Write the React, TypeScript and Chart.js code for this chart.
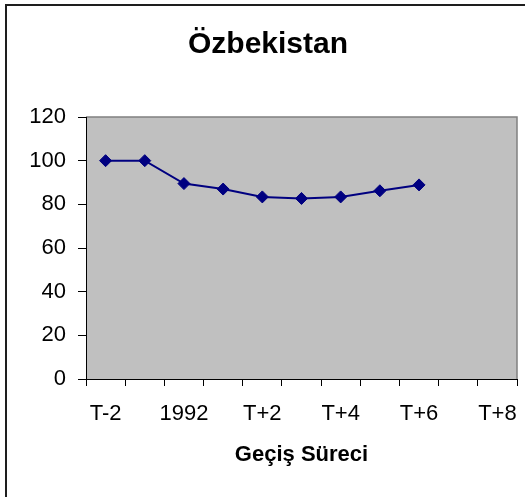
import React, { useEffect, useRef } from "react";
import { Chart, registerables } from "chart.js";

Chart.register(...registerables);

const categories = ["T-2", "T-1", "1992", "T+1", "T+2", "T+3", "T+4", "T+5", "T+6", "T+7", "T+8"];
const values = [100, 100, 89.5, 87, 83.4, 82.7, 83.4, 86.2, 88.9];
const yTicks = { min: 0, max: 120, step: 20 };
const titleText = "Özbekistan";
const xTitle = "Geçiş Süreci";

const FONT = "'Liberation Sans', Arial, sans-serif";

const backgroundPlugin = {
  id: "bgAndPlot",
  beforeDraw(chart: any) {
    const { ctx, chartArea } = chart;
    ctx.save();
    ctx.fillStyle = "#ffffff";
    ctx.fillRect(0, 0, chart.width, chart.height);
    // outer chart border (top & left visible)
    ctx.fillStyle = "#1e1e1e";
    ctx.fillRect(5, 4, 2, chart.height);
    ctx.fillRect(5, 4, chart.width, 2);
    // plot area
    const { left, top, right, bottom } = chartArea;
    ctx.fillStyle = "#c0c0c0";
    ctx.fillRect(left, top, right - left, bottom - top);
    ctx.strokeStyle = "#808080";
    ctx.lineWidth = 1.5;
    ctx.beginPath();
    ctx.moveTo(left, top);
    ctx.lineTo(right, top);
    ctx.lineTo(right, bottom);
    ctx.stroke();
    ctx.restore();
  },
};

export default function App() {
  const ref = useRef<HTMLCanvasElement | null>(null);

  useEffect(() => {
    if (!ref.current) return;
    const chart = new Chart(ref.current, {
      type: "line",
      data: {
        labels: categories,
        datasets: [
          {
            data: values,
            borderColor: "#000080",
            backgroundColor: "#000080",
            borderWidth: 2,
            pointStyle: "rectRot",
            pointRadius: 6,
            pointBorderWidth: 1,
            pointBackgroundColor: "#000080",
            pointBorderColor: "#000080",
            tension: 0,
            fill: false,
          },
        ],
      },
      options: {
        responsive: false,
        animation: false,
        events: [],
        layout: { padding: { left: 19, right: 8, top: 4, bottom: 0 } },
        plugins: {
          legend: { display: false },
          tooltip: { enabled: false },
          title: {
            display: true,
            text: titleText,
            color: "#000",
            font: { family: FONT, size: 30, weight: "bold" },
            padding: { top: 23, bottom: 54 },
          },
        },
        scales: {
          x: {
            type: "category",
            offset: true,
            grid: {
              offset: true,
              drawOnChartArea: false,
              drawTicks: true,
              tickLength: 7,
              tickColor: "#000",
              tickWidth: 1,
            },
            border: { color: "#000", width: 1 },
            ticks: {
              autoSkip: false,
              maxRotation: 0,
              minRotation: 0,
              color: "#000",
              padding: 15,
              font: { family: FONT, size: 22 },
              callback: (_v: any, i: number) => (i % 2 === 0 ? categories[i] : ""),
            },
            title: {
              display: true,
              text: xTitle,
              color: "#000",
              font: { family: FONT, size: 22, weight: "bold" },
              padding: { top: 0, bottom: 29 },
            },
            afterFit: (scale: any) => {
              scale.height = 118;
              scale.paddingLeft = 0;
              scale.paddingRight = 0;
            },
          },
          y: {
            min: yTicks.min,
            max: yTicks.max,
            grid: {
              drawOnChartArea: false,
              drawTicks: true,
              tickLength: 8,
              tickColor: "#000",
            },
            border: { color: "#000", width: 1 },
            ticks: {
              stepSize: yTicks.step,
              color: "#000",
              padding: 12,
              font: { family: FONT, size: 22 },
            },
            afterFit: (scale: any) => {
              scale.width = 67;
              scale.paddingTop = 0;
              scale.paddingBottom = 0;
            },
          },
        },
      },
      plugins: [backgroundPlugin],
    });
    return () => chart.destroy();
  }, []);

  return (
    <div style={{ position: "absolute", left: 0, top: 0, width: 525, height: 497 }}>
      <canvas ref={ref} width={525} height={497} style={{ display: "block" }} />
    </div>
  );
}
